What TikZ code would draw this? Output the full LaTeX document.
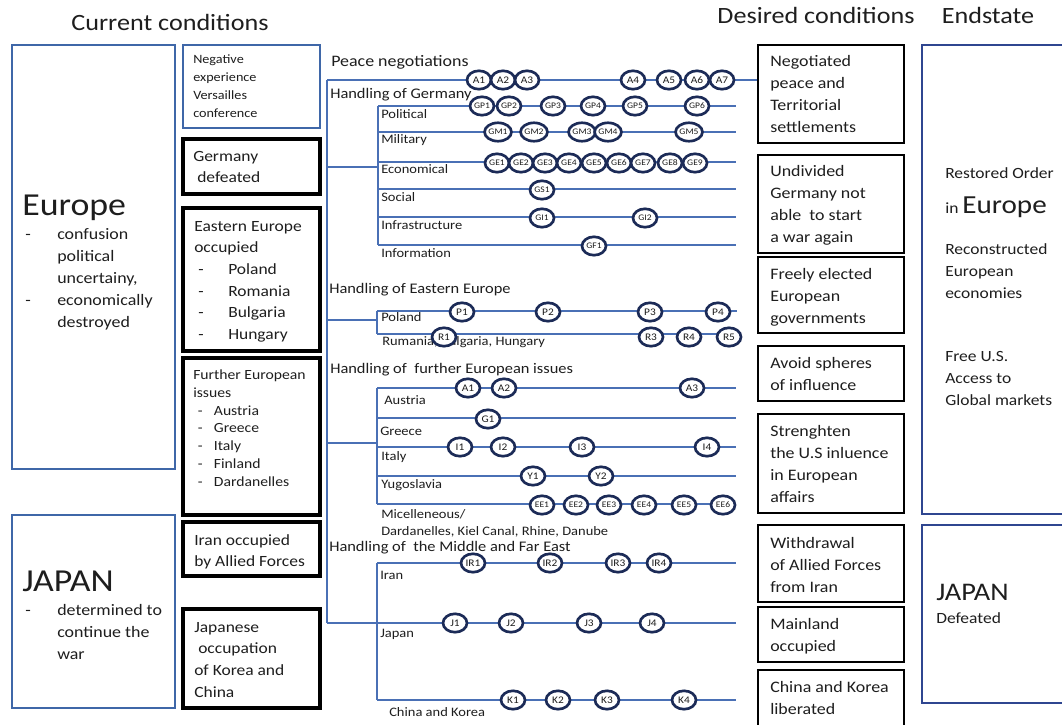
\documentclass[tikz,border=0pt]{standalone}
\usepackage{fontspec}
\setmainfont{Carlito}[FakeStretch=1.12]
\usetikzlibrary{fit,shapes.geometric}
\definecolor{lineblue}{HTML}{4A70B5}
\definecolor{boxblue}{HTML}{3F67A8}
\definecolor{endblue}{HTML}{2F4690}
\definecolor{ringblue}{HTML}{1C2B57}
\definecolor{txt}{HTML}{1E1E1E}
\begin{document}
\begin{tikzpicture}[x=0.75pt,y=-0.75pt,
  bluebox/.style={draw=boxblue,line width=1.9pt,inner sep=0pt},
  thinblue/.style={draw=boxblue,line width=1.5pt,inner sep=0pt},
  blackbox/.style={draw=black,line width=2.5pt,inner sep=0pt},
  goalbox/.style={draw=black,line width=1.9pt,inner sep=0pt},
  endbox/.style={draw=endblue,line width=2.2pt,inner sep=0pt},
  conn/.style={draw=lineblue,line width=1.1pt},
  ring/.style={draw=ringblue,fill=white,line width=2pt,ellipse,minimum width=18pt,minimum height=13.8pt,inner sep=0pt,font=\fontsize{7.6}{7.6}\selectfont,text=txt},
  smallring/.style={ring,font=\fontsize{6.4}{6.4}\selectfont},
  tx/.style={inner sep=0pt,text=txt,align=left,anchor=north west},
  lbl/.style={inner sep=0pt,text=txt,anchor=west,font=\fontsize{9.7}{11}\selectfont},
  head/.style={inner sep=0pt,text=txt,anchor=west,font=\fontsize{11}{13}\selectfont},
  title/.style={inner sep=0pt,text=txt,anchor=center,font=\fontsize{17.5}{20}\selectfont},
  big/.style={inner sep=0pt,text=txt,anchor=base west,font=\fontsize{24}{28}\selectfont},
  listf/.style={tx,font=\fontsize{12}{16.5}\selectfont},
  midf/.style={tx,font=\fontsize{11.7}{16.2}\selectfont},
  goalf/.style={tx,font=\fontsize{12}{16.3}\selectfont},
  endf/.style={tx,font=\fontsize{11.7}{16.5}\selectfont}
]
\useasboundingbox (0,0) rectangle (1062,724);
\fill[white] (0,0) rectangle (1062,724);

% titles
\node[title] (tcur) at (170,22) {Current conditions};
\node[title] (tdes) at (816,15) {Desired conditions};
\node[title] (tend) at (988,15) {Endstate};

% left boxes
\node[bluebox, fit={(12,45)(175,469)}] (eur) {};
\node[bluebox, fit={(12,515)(175,708)}] (jap) {};
\node[thinblue, fit={(183,45)(320,128)}] (neg) {};
\node[blackbox, fit={(183,139)(320,194)}] (gdef) {};
\node[blackbox, fit={(183,208)(320,351)}] (eeo) {};
\node[blackbox, fit={(183,358)(320,515)}] (fei) {};
\node[blackbox, fit={(183,522)(320,576)}] (iro) {};
\node[blackbox, fit={(183,609)(320,708)}] (jocc) {};

% desired boxes
\node[goalbox, fit={(758,45)(904,143)}] (d1) {};
\node[goalbox, fit={(758,155)(904,253)}] (d2) {};
\node[goalbox, fit={(758,257)(904,333)}] (d3) {};
\node[goalbox, fit={(758,346)(904,401)}] (d4) {};
\node[goalbox, fit={(758,414)(904,513)}] (d5) {};
\node[goalbox, fit={(758,525)(904,602)}] (d6) {};
\node[goalbox, fit={(758,607)(904,662)}] (d7) {};
\node[goalbox, fit={(758,670)(904,728)}] (d8) {};

% endstate boxes
\node[endbox, fit={(922,45)(1072,514)}] (e1) {};
\node[endbox, fit={(922,525)(1072,703)}] (e2) {};

% left texts
\node[big] (eurT) at (22,215) {Europe};
\node[listf] (eurL) at (25,228.5) {\makebox[24pt][l]{-}confusion\\\hspace*{24pt}political\\\hspace*{24pt}uncertainy,\\\makebox[24pt][l]{-}economically\\\hspace*{24pt}destroyed};
\node[big] (japT) at (22,591) {JAPAN};
\node[listf] (japL) at (25,604.5) {\makebox[24pt][l]{-}determined to\\\hspace*{24pt}continue the\\\hspace*{24pt}war};

\node[tx,font=\fontsize{9.5}{13.5}\selectfont] (negT) at (193,54) {Negative\\experience\\Versailles\\conference};
\node[midf] (gdefT) at (193,151) {Germany\\\hspace*{3pt}defeated};
\node[midf] (eeoT) at (194,221) {Eastern Europe\\occupied\\\hspace*{3pt}\makebox[22.5pt][l]{-}Poland\\\hspace*{3pt}\makebox[22.5pt][l]{-}Romania\\\hspace*{3pt}\makebox[22.5pt][l]{-}Bulgaria\\\hspace*{3pt}\makebox[22.5pt][l]{-}Hungary};
\node[tx,font=\fontsize{10.5}{13.35}\selectfont] (feiT) at (193,369.5) {Further European\\issues\\\hspace*{3.5pt}\makebox[12pt][l]{-}Austria\\\hspace*{3.5pt}\makebox[12pt][l]{-}Greece\\\hspace*{3.5pt}\makebox[12pt][l]{-}Italy\\\hspace*{3.5pt}\makebox[12pt][l]{-}Finland\\\hspace*{3.5pt}\makebox[12pt][l]{-}Dardanelles};
\node[midf] (iroT) at (194,534) {Iran occupied\\by Allied Forces};
\node[midf] (joccT) at (194,622) {Japanese\\\hspace*{3pt}occupation\\of Korea and\\China};

% desired texts
\node[goalf] (d1T) at (770,55.5) {Negotiated\\peace and\\Territorial\\settlements};
\node[goalf] (d2T) at (770,165.5) {Undivided\\Germany not\\able\ \ to start\\a war again};
\node[goalf] (d3T) at (770,268.5) {Freely elected\\European\\governments};
\node[goalf] (d4T) at (770,357.5) {Avoid spheres\\of influence};
\node[goalf] (d5T) at (770,425.5) {Strenghten\\the U.S inluence\\in European\\affairs};
\node[goalf] (d6T) at (770,537.5) {Withdrawal\\of Allied Forces\\from Iran};
\node[goalf] (d7T) at (770,618.5) {Mainland\\occupied};
\node[goalf] (d8T) at (770,681.5) {China and Korea\\liberated};

% endstate texts
\node[endf] (e1a) at (945,167) {Restored Order};
\node[inner sep=0pt,text=txt,anchor=base west] (e1b) at (945,213) {\fontsize{11.7}{14}\selectfont in \fontsize{19.5}{22}\selectfont Europe};
\node[endf] (e1c) at (945,243) {Reconstructed\\European\\economies};
\node[endf] (e1d) at (945,351.5) {Free U.S.\\Access to\\Global markets};
\node[inner sep=0pt,text=txt,anchor=base west,font=\fontsize{19}{22}\selectfont] (e2a) at (936,600) {JAPAN};
\node[endf] (e2b) at (936,612.5) {Defeated};

% main trunk
\coordinate (mvT) at (327,80);
\coordinate (mvB) at (327,623);
\draw[conn] (mvT) -- (mvB);
\draw[conn] (mvT) -- (d1.west |- mvT);

% Germany
\coordinate (gvT) at (378,106);
\coordinate (gvB) at (378,245);
\coordinate (gbr) at (327,167);
\draw[conn] (gvT) -- (gvB);
\draw[conn] (gbr) -- (gvT |- gbr);
\foreach \y [count=\i] in {106,132,162,189,217,245}{
  \coordinate (gL\i) at (378,\y); \coordinate (gR\i) at (736,\y);
  \draw[conn] (gL\i) -- (gR\i);}

% Eastern Europe
\coordinate (evT) at (377,311);
\coordinate (evB) at (377,334);
\coordinate (ebr) at (327,320);
\draw[conn] (evT) -- (evB);
\draw[conn] (ebr) -- (evT |- ebr);
\foreach \y [count=\i] in {311,334}{
  \coordinate (eL\i) at (377,\y); \coordinate (eR\i) at (737,\y);
  \draw[conn] (eL\i) -- (eR\i);}

% further European
\coordinate (fvT) at (377,388);
\coordinate (fvB) at (377,504);
\coordinate (fbr) at (327,443);
\draw[conn] (fvT) -- (fvB);
\draw[conn] (fbr) -- (fvT |- fbr);
\foreach \y [count=\i] in {388,418,447,476,504}{
  \coordinate (fL\i) at (377,\y); \coordinate (fR\i) at (736,\y);
  \draw[conn] (fL\i) -- (fR\i);}

% middle and far east
\coordinate (mvT2) at (377,563);
\coordinate (mvB2) at (377,700);
\draw[conn] (mvT2) -- (mvB2);
\draw[conn] (mvB) -- (mvT2 |- mvB);
\foreach \y [count=\i] in {563,623,700}{
  \coordinate (mL\i) at (377,\y); \coordinate (mR\i) at (736,\y);
  \draw[conn] (mL\i) -- (mR\i);}

% headers and labels
\node[head,font=\fontsize{12}{14}\selectfont] (hPeace) at (331,62) {Peace negotiations};
\node[head] (hGer) at (330,95) {Handling of Germany};
\node[lbl] (lPol) at (381,114) {Political};
\node[lbl] (lMil) at (381,140) {Military};
\node[lbl] (lEco) at (381,169) {Economical};
\node[lbl] (lSoc) at (381,197) {Social};
\node[lbl] (lInf) at (381,225) {Infrastructure};
\node[lbl] (lInfo) at (381,253) {Information};
\node[head] (hEast) at (329,290) {Handling of Eastern Europe};
\node[lbl] (lPoland) at (381,317) {Poland};
\node[lbl] (lRum) at (382,342) {Rumania, Bulgaria, Hungary};
\node[head] (hFur) at (330,370) {Handling of\ \ further European issues};
\node[lbl] (lAus) at (384,400) {Austria};
\node[lbl] (lGre) at (380,431) {Greece};
\node[lbl] (lIta) at (381,457) {Italy};
\node[lbl] (lYug) at (381,485) {Yugoslavia};
\node[lbl,align=left,anchor=north west,font=\fontsize{9.7}{12.8}\selectfont] (lMisc) at (381,509) {Micelleneous/\\Dardanelles, Kiel Canal, Rhine, Danube};
\node[head] (hME) at (329,548) {Handling of\ \ the Middle and Far East};
\node[lbl] (lIran) at (380,575) {Iran};
\node[lbl] (lJap) at (380,634) {Japan};
\node[lbl] (lChi) at (389,712) {China and Korea};

% milestone rings
\foreach \n/\x in {A1/479,A2/503,A3/527,A4/633,A5/669,A6/697,A7/722}
  \node[ring] (pn\n) at (\x,80) {\n};
\foreach \n/\x in {GP1/482,GP2/509,GP3/553,GP4/593,GP5/635,GP6/697}
  \node[smallring] (gp\n) at (\x,106) {\n};
\foreach \n/\x in {GM1/498,GM2/534,GM3/582,GM4/608,GM5/689}
  \node[smallring] (gm\n) at (\x,132) {\n};
\foreach \n/\x in {GE1/497,GE2/521,GE3/545,GE4/569,GE5/594,GE6/619,GE7/643,GE8/670,GE9/695}
  \node[smallring] (ge\n) at (\x,163) {\n};
\node[smallring] (gsGS1) at (542,190) {GS1};
\node[smallring] (giGI1) at (542,218) {GI1};
\node[smallring] (giGI2) at (645,218) {GI2};
\node[smallring] (gfGF1) at (594,246) {GF1};
\foreach \n/\x in {P1/462,P2/548,P3/650,P4/718}
  \node[ring] (ee\n) at (\x,312) {\n};
\foreach \n/\x in {R1/444,R3/651,R4/689,R5/729}
  \node[ring] (ee\n) at (\x,337) {\n};
\foreach \n/\x in {A1/468,A2/504,A3/692}
  \node[ring] (fe\n) at (\x,388) {\n};
\node[ring] (feG1) at (488,419) {G1};
\foreach \n/\x in {I1/460,I2/503,I3/582,I4/707}
  \node[ring] (fe\n) at (\x,447) {\n};
\foreach \n/\x in {Y1/533,Y2/601}
  \node[ring] (fe\n) at (\x,476) {\n};
\foreach \n/\x in {EE1/542,EE2/576,EE3/609,EE4/644,EE5/684,EE6/723}
  \node[smallring] (fe\n) at (\x,505) {\n};
\foreach \n/\x in {IR1/473,IR2/550,IR3/618,IR4/659}
  \node[ring] (me\n) at (\x,563) {\n};
\foreach \n/\x in {J1/455,J2/511,J3/589,J4/652}
  \node[ring] (me\n) at (\x,623) {\n};
\foreach \n/\x in {K1/513,K2/558,K3/607,K4/684}
  \node[ring] (me\n) at (\x,700) {\n};
\end{tikzpicture}
\end{document}
